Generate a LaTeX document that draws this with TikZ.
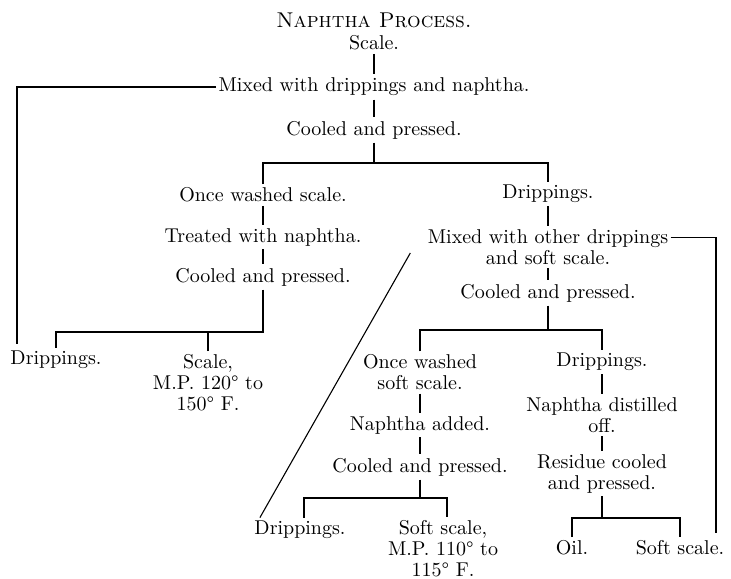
\documentclass[tikz,border=0pt]{standalone}
\usepackage{tikz}
\usetikzlibrary{positioning}

\begin{document}
\begin{tikzpicture}[x=0.5pt, y=-0.5pt, line width=0.55pt,
        stage/.style={align=center, inner xsep=1pt, inner ysep=1.5pt, font=\fontsize{10pt}{10.5pt}\selectfont}]
        \useasboundingbox (0,0) rectangle (731,578);
        \node[stage, font=\fontsize{10.7pt}{11pt}\selectfont] (title) at (374,20) {\textsc{Naphtha Process.}};
        \node[stage, below of=title, node distance=11.5pt] (scale) {Scale.};
        \node[stage, below of=scale, node distance=22pt] (mixed) {Mixed with drippings and naphtha.};
        \node[stage, below of=mixed, node distance=21.5pt] (cool1) {Cooled and pressed.};

        % left branch
        \node[stage, below of=cool1, node distance=32.5pt, xshift=-55.5pt] (wash1) {Once washed scale.};
        \node[stage, below of=wash1, node distance=21pt] (treat) {Treated with naphtha.};
        \node[stage, below of=treat, node distance=20pt] (cool2) {Cooled and pressed.};
        \node[stage, below of=cool2, node distance=41.5pt, xshift=-103.5pt] (drip1) {Drippings.};
        \node[stage, below of=cool2, node distance=53pt, xshift=-27.5pt] (scale2) {Scale,\\M.P. 120\textdegree{} to\\150\textdegree{} F.};

        % right branch
        \node[stage, below of=cool1, node distance=32pt, xshift=87pt] (drip2) {Drippings.};
        \node[stage, below of=drip2, node distance=26.5pt] (mixed2) {Mixed with other drippings\\and soft scale.};
        \node[stage, below of=mixed2, node distance=23pt] (cool3) {Cooled and pressed.};
        \node[stage, below of=cool3, node distance=39.75pt, xshift=-64pt] (wash2) {Once washed\\soft scale.};
        \node[stage, below of=wash2, node distance=26.25pt] (added) {Naphtha added.};
        \node[stage, below of=added, node distance=21pt] (cool4) {Cooled and pressed.};
        \node[stage, below of=cool4, node distance=31.5pt, xshift=-60pt] (drip3) {Drippings.};
        \node[stage, below of=cool4, node distance=41pt, xshift=11.5pt] (soft1) {Soft scale,\\M.P. 110\textdegree{} to\\115\textdegree{} F.};
        \node[stage, below of=cool3, node distance=34.5pt, xshift=27pt] (drip4) {Drippings.};
        \node[stage, below of=drip4, node distance=26.5pt] (dist) {Naphtha distilled\\off.};
        \node[stage, below of=dist, node distance=29.25pt] (resid) {Residue cooled\\and pressed.};
        \node[stage, below of=resid, node distance=37.25pt, xshift=-15pt] (oil) {Oil.};
        \node[stage, right of=oil, node distance=54pt] (soft2) {Soft scale.};

        % junctions and loose ends
        \coordinate[below of=cool1, node distance=16.5pt] (j1);
        \coordinate[below of=cool2, node distance=27.5pt] (j2);
        \coordinate[below of=cool3, node distance=18.5pt] (j3);
        \coordinate[below of=cool4, node distance=15.5pt] (j4);
        \coordinate[below of=resid, node distance=22.25pt] (j5);
        \coordinate (ret1) at (17,344);
        \coordinate (ret2) at (716,533);

        \draw (scale) -- (mixed);
        \draw (mixed) -- (cool1);
        \draw (cool1) -- (j1);
        \draw (wash1.north) |- (j1) -| (drip2.north);
        \draw (wash1) -- (treat);
        \draw (treat) -- (cool2);
        \draw (cool2) -- (j2) -| (drip1.north);
        \draw (scale2.north) -- (scale2.north |- j2);
        \draw (mixed.west) -| (ret1);

        \draw (drip2) -- (mixed2);
        \draw (mixed2) -- (cool3);
        \draw (cool3) -- (j3);
        \draw (wash2.north) |- (j3) -| (drip4.north);
        \draw (wash2) -- (added);
        \draw (added) -- (cool4);
        \draw (cool4) -- (j4);
        \draw ([xshift=2pt]drip3.north) |- (j4) -| ([xshift=2pt]soft1.north);
        \draw (drip4) -- (dist);
        \draw (dist) -- (resid);
        \draw (resid) -- (j5);
        \draw (oil.north) |- (j5) -| (soft2.north);
        \draw ([yshift=-6pt]mixed2.north east) -| (ret2);
        \draw ([xshift=4pt]drip3.north west) -- ([xshift=-7.5pt, yshift=-3pt]mixed2.west);
    \end{tikzpicture}
\end{document}
